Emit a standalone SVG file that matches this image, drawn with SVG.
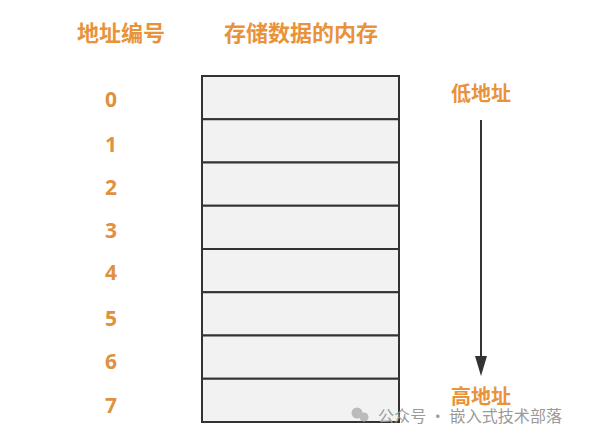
<svg xmlns="http://www.w3.org/2000/svg" width="606" height="444" viewBox="0 0 606 444">
<defs>
<style>
.t{font-family:"Noto Sans CJK SC","Liberation Sans",sans-serif;font-weight:bold;fill:#E8923A;text-anchor:middle}
.h{font-size:22px}
.l{font-size:20px}
.n{font-family:"Open Sans","Liberation Sans",sans-serif;font-weight:bold;font-size:21px;fill:#E0913F;text-anchor:middle}
.c{fill:#F2F2F2;stroke:#333;stroke-width:2}
.wm{font-family:"Noto Sans CJK SC",sans-serif;font-size:16px;fill:#9a9a9a}
</style>
</defs>
<rect width="606" height="444" fill="#fff"/>
<g id="headers">
<text class="t h" x="121" y="41">地址编号</text>
<text class="t h" x="301" y="41">存储数据的内存</text>
</g>
<g id="memory">
<rect class="c" x="202" y="76" width="197" height="43.25"/>
<rect class="c" x="202" y="119.25" width="197" height="43.25"/>
<rect class="c" x="202" y="162.5" width="197" height="43.25"/>
<rect class="c" x="202" y="205.75" width="197" height="43.25"/>
<rect class="c" x="202" y="249" width="197" height="43.25"/>
<rect class="c" x="202" y="292.25" width="197" height="43.25"/>
<rect class="c" x="202" y="335.5" width="197" height="43.25"/>
<rect class="c" x="202" y="378.75" width="197" height="43.25"/>
</g>
<g id="addresses">
<text class="n" x="111" y="107">0</text>
<text class="n" x="111" y="152">1</text>
<text class="n" x="111" y="195">2</text>
<text class="n" x="111" y="238">3</text>
<text class="n" x="111" y="280">4</text>
<text class="n" x="111" y="326">5</text>
<text class="n" x="111" y="369">6</text>
<text class="n" x="111" y="413">7</text>
</g>
<g id="low-label"><text class="t l" x="481" y="101">低地址</text></g>
<g id="high-label"><text class="t l" x="481" y="404">高地址</text></g>
<g id="connectors">
<line x1="481" y1="120" x2="481" y2="358" stroke="#333" stroke-width="2"/>
<polygon points="475,356 487,356 481,376" fill="#333"/>
</g>
<g id="watermark">
<circle cx="357" cy="413" r="5.5" fill="#bbb"/>
<circle cx="364" cy="417" r="4.5" fill="#bbb"/>
<text class="wm" x="378" y="422" textLength="184">公众号 · 嵌入式技术部落</text>
</g>
</svg>
